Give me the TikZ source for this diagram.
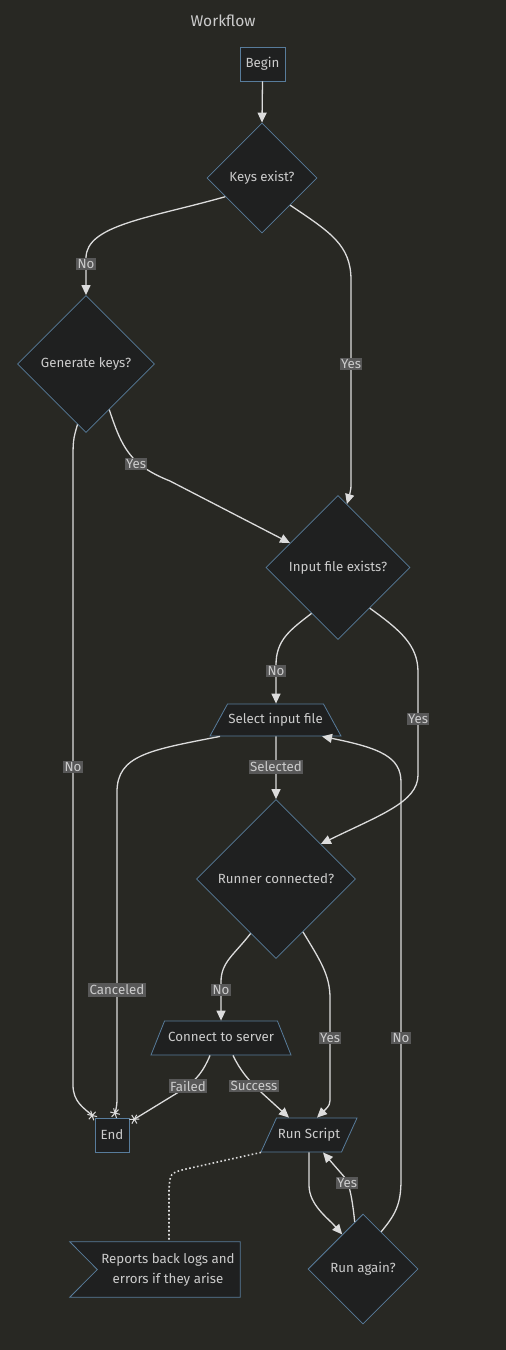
\documentclass[tikz,border=0pt]{standalone}
\usepackage{fontspec}
\setmainfont{Fira Sans}
\usetikzlibrary{shapes.geometric,arrows.meta,backgrounds}
\definecolor{bgc}{RGB}{40,40,35}
\definecolor{nodef}{RGB}{31,32,32}
\definecolor{nodeb}{RGB}{88,124,155}
\definecolor{linec}{RGB}{220,220,220}
\definecolor{txt}{RGB}{204,204,204}
\definecolor{lblbg}{RGB}{88,88,88}
\tikzset{
  box/.style={draw=nodeb, fill=nodef, line width=0.8pt, text=txt, font=\fontsize{13.3}{15}\selectfont, inner sep=0pt},
  rectbox/.style={box, rectangle, minimum width=#1, minimum height=34pt},
  dia/.style={box, diamond, aspect=1, minimum width=#1, minimum height=#1},
  trap/.style={box, trapezium, trapezium stretches body, trapezium left angle=#1, trapezium right angle=#1, text height=9.5pt, text depth=3pt, inner xsep=0pt},
  para/.style={box, trapezium, trapezium stretches body, trapezium left angle=65.5, trapezium right angle=114.5, text height=9.5pt, text depth=3pt, inner xsep=0pt, inner ysep=10.75pt},
  notebox/.style={rectangle, text=txt, inner sep=0pt, minimum width=170pt, minimum height=55pt, font=\fontsize{13.3}{20.5}\selectfont},
  noteshape/.style={draw=nodeb, fill=nodef, line width=0.8pt},
  lbl/.style={fill=lblbg, text=txt, inner sep=1.5pt, font=\fontsize{13.3}{15}\selectfont},
  flow/.style={draw=linec, line width=1.3pt, -{Triangle[length=10pt,width=9pt]}},
  kill/.style={draw=linec, line width=1.3pt, -{Rays[n=6,length=10pt,line width=1pt]}},
  dotline/.style={draw=linec, line width=1.6pt, dash pattern=on 1.6pt off 2.4pt},
}
\begin{document}
\begin{tikzpicture}[x=1pt,y=-1pt]
\begin{scope}[on background layer]
\fill[bgc] (0,0) rectangle (506,1350);
\end{scope}
\useasboundingbox (0,0) rectangle (506,1350);

\node[text=txt, font=\fontsize{15.5}{18}\selectfont] (title) at (223,21) {Workflow};

\node[rectbox=45pt] (begin) at (262.5,64) {Begin};
\node[dia=110pt] (ke) at (262,178) {Keys exist?};
\node[dia=137pt] (gk) at (86,364) {Generate keys?};
\node[dia=144pt] (ife) at (338,567.5) {Input file exists?};
\node[trap=61.3, minimum width=131pt, inner ysep=9.75pt] (sel) at (275.5,720) {Select input file};
\node[dia=159pt] (rc) at (276,879) {Runner connected?};
\node[trap=68.3, minimum width=140pt, inner ysep=10.75pt] (cs) at (221,1038) {Connect to server};
\node[rectbox=34pt] (end) at (112,1135) {End};
\node[para, minimum width=96pt] (rs) at (309,1135) {Run Script};
\node[dia=110pt] (ra) at (363,1269) {Run again?};
\node[notebox] (note) at (155,1269.5) {\hspace*{26pt}\begin{tabular}{@{}c@{}}Reports back logs and\\errors if they arise\end{tabular}};
\begin{scope}[on background layer]
\path[noteshape] (note.north west) -- (note.north east) -- (note.south east) -- (note.south west) -- ([xshift=27.5pt]note.west) -- cycle;
\end{scope}

% Begin -> Keys
\draw[flow] (begin.south) -- (ke.north);
% Keys -> Generate (No)
\draw[flow] (ke.207) .. controls (150,218) and (86,225) .. (86,258) -- (gk.north);
\node[lbl] (lno1) at (86,264) {No};
% Keys -> Input (Yes)
\draw[flow] (ke.316) .. controls (330,232) and (351,245) .. (351,280) -- (351,475) .. controls (351,490) .. (ife.82);
\node[lbl] (lyes1) at (351,364) {Yes};
% Generate -> Input (Yes)
\draw[flow] (gk.297) .. controls (122,448) and (130,465) .. (170,481) -- (ife.153);
\node[lbl] (lyes2) at (136,464) {Yes};
% Generate -> End (No)
\draw[kill] (gk.262) .. controls (73,440) .. (73,465) -- (73,1085) .. controls (73,1102) and (84,1108) .. ([xshift=1pt,yshift=-1pt]end.north west);
\node[lbl] (lno2) at (73,767) {No};
% Input -> Select (No)
\draw[flow] (ife.240.5) .. controls (290,630) and (276,640) .. (276,665) -- ([xshift=0.5pt]sel.north);
\node[lbl] (lno3) at (276,671) {No};
% Input -> Runner (Yes)
\draw[flow] (ife.308) .. controls (400,630) and (418,645) .. (418,672) -- (418,775) .. controls (418,802) and (380,815) .. (rc.38);
\node[lbl] (lyes3) at (418,719) {Yes};
% Select -> Runner (Selected)
\draw[flow] ([xshift=0.5pt]sel.south) -- (rc.north);
\node[lbl] (lsel) at (276,767) {Selected};
% Select -> End (Canceled)
\draw[kill] ([xshift=-55.5pt]sel.south) .. controls (150,750) and (117,755) .. (117,792) -- (117,1092) .. controls (117,1105) .. ([xshift=2pt]end.north);
\node[lbl] (lcan) at (117,990) {Canceled};
% Runner -> Connect (No)
\draw[flow] (rc.245) .. controls (234,955) and (221,962) .. (221,982) -- (cs.north);
\node[lbl] (lno4) at (221,990) {No};
% Runner -> Run Script (Yes)
\draw[flow] (rc.297) .. controls (320,960) and (330,975) .. (330,998) -- (330,1095) .. controls (330,1105) .. ([xshift=8pt]rs.north);
\node[lbl] (lyes4) at (330,1038) {Yes};
% Connect -> End (Failed)
\draw[kill] ([xshift=-11pt]cs.south) .. controls (204,1070) and (197,1080) .. (182,1090) -- ([xshift=1pt,yshift=-4pt]end.north east);
\node[lbl] (lfail) at (188,1086) {Failed};
% Connect -> Run Script (Success)
\draw[flow] ([xshift=12pt]cs.south) .. controls (240,1070) and (248,1080) .. (262,1093) -- ([xshift=-20pt]rs.north);
\node[lbl] (lsuc) at (254,1086) {Success};
% Run Script -> Run again
\draw[flow] (rs.south) -- (309,1185) .. controls (309,1205) and (328,1218) .. (ra.121.7);
% Run again -> Run Script (Yes)
\draw[flow] (ra.100) .. controls (353,1205) and (351,1192) .. (347,1180) -- ([xshift=14pt]rs.south);
\node[lbl] (lyes5) at (347,1183) {Yes};
% Run again -> Select (No)
\draw[flow] (ra.64) .. controls (395,1215) and (401,1205) .. (401,1180) -- (401,782) .. controls (401,757) and (380,748) .. ([xshift=46.5pt]sel.south);
\node[lbl] (lno5) at (401,1038) {No};
% Note link
\draw[dotline] ([xshift=-48pt]rs.south) -- (186,1169) .. controls (170,1173) .. (169,1190) -- ([xshift=14pt]note.north);
\end{tikzpicture}
\end{document}
